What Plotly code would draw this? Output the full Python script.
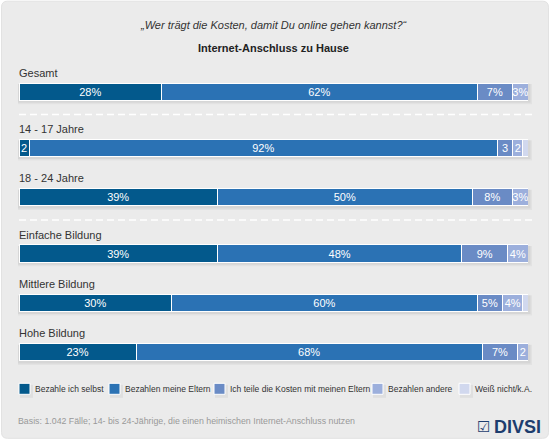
import plotly.graph_objects as go

# ---- data ----
GROUPS = ["Gesamt", "14 - 17 Jahre", "18 - 24 Jahre",
          "Einfache Bildung", "Mittlere Bildung", "Hohe Bildung"]
SECTION = [0, 1, 1, 2, 2, 2]  # dashed separators between sections

SERIES = ["Bezahle ich selbst", "Bezahlen meine Eltern",
          "Ich teile die Kosten mit meinen Eltern", "Bezahlen andere",
          "Weiß nicht/k.A."]

selbst = [28, 2, 39, 39, 30, 23]
eltern = [62, 92, 50, 48, 60, 68]
teilen = [7, 3, 8, 9, 5, 7]
andere = [3, 2, 3, 4, 4, 2]
weiss = [0, 1, 0, 0, 1, 0]

selbst_txt = ["28%", "2", "39%", "39%", "30%", "23%"]
eltern_txt = ["62%", "92%", "50%", "48%", "60%", "68%"]
teilen_txt = ["7%", "3", "8%", "9%", "5%", "7%"]
andere_txt = ["3%", "2", "3%", "4%", "4%", "2"]
weiss_txt = ["", "", "", "", "", ""]

TITLE = "„Wer trägt die Kosten, damit Du online gehen kannst?“"
SUBTITLE = "Internet-Anschluss zu Hause"
NOTE = "Basis: 1.042 Fälle; 14- bis 24-Jährige, die einen heimischen Internet-Anschluss nutzen"

# ---- styling / layout ----
COLORS = ["#03598c", "#2b72b4", "#6a8bc5", "#9cafdc", "#d1d8ee"]
BG = "#ebebeb"
FONT = "Liberation Sans, Arial, sans-serif"

W, H = 550, 440
ML, MR, MT, MB = 19, 22, 67.3, 62.8
PW, PH = W - ML - MR, H - MT - MB
SEC_GAP = 0.14
BAR_W = 0.35
Y_SPAN = 5 + 2 * SEC_GAP + 1.0  # y range length
UNIT = PH / Y_SPAN               # px per y unit


def px_x(px):
    return (px - ML) / PW


def px_y(py):
    return 1 - (py - MT) / PH


rows = [i + SEC_GAP * s for i, s in enumerate(SECTION)]

fig = go.Figure()
values = [selbst, eltern, teilen, andere, weiss]
texts = [selbst_txt, eltern_txt, teilen_txt, andere_txt, weiss_txt]
for name, vals, txt, col in zip(SERIES, values, texts, COLORS):
    fig.add_trace(go.Bar(
        y=rows, x=vals, orientation="h", name=name, width=BAR_W,
        marker=dict(color=col, line=dict(color="white", width=1)),
        text=txt, textposition="inside", insidetextanchor="middle",
        textangle=0, constraintext="none",
        insidetextfont=dict(color="white", size=11, family=FONT),
        hoverinfo="skip", showlegend=False,
    ))

shapes = []
# rounded grey panel
x0, x1, y0, y1, r = px_x(1.5), px_x(548.5), px_y(1.5), px_y(438.5), 6
rx, ry = r / PW, r / PH
panel = (f"M {x0+rx},{y0} L {x1-rx},{y0} Q {x1},{y0} {x1},{y0-ry} "
         f"L {x1},{y1+ry} Q {x1},{y1} {x1-rx},{y1} L {x0+rx},{y1} "
         f"Q {x0},{y1} {x0},{y1+ry} L {x0},{y0-ry} Q {x0},{y0} {x0+rx},{y0} Z")
shapes.append(dict(type="path", path=panel, xref="paper", yref="paper",
                   fillcolor=BG, line=dict(color="#e2e2e2", width=1), layer="below"))

# soft drop shadow under each bar
for y in rows:
    for grow, alpha in [(4, 0.035), (2.5, 0.05)]:
        shapes.append(dict(type="rect", xref="paper", yref="y", layer="below",
                           x0=px_x(ML - 1), x1=px_x(W - MR + grow),
                           y0=y - BAR_W / 2 + 1 / UNIT, y1=y + BAR_W / 2 + grow / UNIT,
                           fillcolor=f"rgba(0,0,0,{alpha})", line=dict(width=0)))

# dashed separators after the last row of a section
for i in range(len(rows) - 1):
    if SECTION[i] != SECTION[i + 1]:
        y = rows[i] + 0.46
        shapes.append(dict(type="line", xref="paper", yref="y", x0=0, x1=px_x(532),
                           y0=y, y1=y, line=dict(color="white", width=1.5, dash="7px,4px")))

annotations = []
for g, y in zip(GROUPS, rows):
    annotations.append(dict(x=0, y=y, xref="x", yref="y", text=g, showarrow=False,
                            xanchor="left", yanchor="middle", yshift=19, xshift=-2,
                            font=dict(size=11, color="#333333", family=FONT)))

annotations.append(dict(x=0.5, y=px_y(25), xref="paper", yref="paper", text=f"<i>{TITLE}</i>",
                        showarrow=False, xanchor="center", yanchor="middle",
                        font=dict(size=11, color="#333333", family=FONT)))
annotations.append(dict(x=0.5, y=px_y(48), xref="paper", yref="paper", text=f"<b>{SUBTITLE}</b>",
                        showarrow=False, xanchor="center", yanchor="middle",
                        font=dict(size=11, color="#222222", family=FONT)))

# custom legend row
LEG_X = [19, 109, 214, 372, 459]
LEG_Y = 389
for name, col, lx in zip(SERIES, COLORS, LEG_X):
    shapes.append(dict(type="rect", xref="paper", yref="paper",
                       x0=px_x(lx + 1), x1=px_x(lx + 14), y0=px_y(LEG_Y + 9), y1=px_y(LEG_Y - 4),
                       fillcolor="rgba(0,0,0,0.05)", line=dict(width=0)))
    shapes.append(dict(type="rect", xref="paper", yref="paper",
                       x0=px_x(lx), x1=px_x(lx + 11), y0=px_y(LEG_Y + 5.5), y1=px_y(LEG_Y - 5.5),
                       fillcolor=col, line=dict(color="white", width=1)))
    annotations.append(dict(x=px_x(lx + 14), y=px_y(LEG_Y), xref="paper", yref="paper",
                            text=name, showarrow=False, xanchor="left", yanchor="middle",
                            font=dict(size=8.5, color="#333333", family=FONT)))

annotations.append(dict(x=px_x(16), y=px_y(421), xref="paper", yref="paper", text=NOTE,
                        showarrow=False, xanchor="left", yanchor="middle",
                        font=dict(size=8.8, color="#999999", family=FONT)))
annotations.append(dict(x=px_x(543), y=px_y(427), xref="paper", yref="paper",
                        text="<b>DIVSI</b>", showarrow=False, xanchor="right", yanchor="middle",
                        font=dict(size=18, color="#1d3d6e", family=FONT)))
annotations.append(dict(x=px_x(492), y=px_y(427), xref="paper", yref="paper",
                        text="☑", showarrow=False, xanchor="right", yanchor="middle",
                        font=dict(size=15, color="#1d3d6e", family="DejaVu Sans")))

fig.update_layout(
    width=W, height=H, barmode="stack",
    margin=dict(l=ML, r=MR, t=MT, b=MB, pad=0),
    paper_bgcolor="white", plot_bgcolor="rgba(0,0,0,0)",
    xaxis=dict(range=[0, 100], visible=False, fixedrange=True),
    yaxis=dict(range=[rows[-1] + 0.5, -0.5], visible=False, fixedrange=True),
    shapes=shapes, annotations=annotations,
)

fig.write_html("out.html", config={"displayModeBar": False},
               post_script="document.body.style.margin='0';")
